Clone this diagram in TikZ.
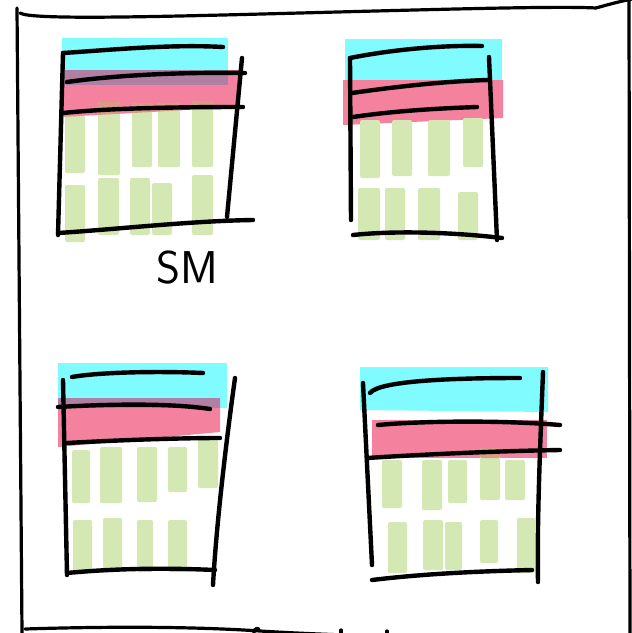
\documentclass[tikz,border=0pt]{standalone}
\usepackage{xcolor}
\definecolor{cyanhl}{HTML}{80FBFF}
\definecolor{pinkhl}{HTML}{F4829E}
\definecolor{purplehl}{HTML}{B07FA3}
\definecolor{greenhl}{HTML}{D4E8B4}
\definecolor{tanhl}{HTML}{D99A86}
\tikzset{
  cyanband/.style={fill=cyanhl},
  pinkband/.style={fill=pinkhl},
  mixband/.style={fill=purplehl},
  greenbar/.style={fill=greenhl, rounded corners=2pt},
  tanbar/.style={fill=tanhl, rounded corners=2pt},
  ink/.style={draw=black, line width=4.4pt, line cap=round, line join=round},
  frameink/.style={draw=black, line width=3.2pt, line cap=round, line join=round},
  label/.style={font=\fontsize{46}{46}\selectfont\sffamily, inner sep=0pt}
}
\begin{document}
\begin{tikzpicture}[x=1pt,y=-1pt]
\useasboundingbox (0,0) rectangle (632,633);
\fill[white] (0,0) rectangle (632,633);

% ---------- outer frame ----------
\draw[frameink] (17,8) -- (22,633);
\draw[frameink] (20,13) .. controls (30,20) and (150,17) .. (300,13) .. controls (450,9) and (560,6) .. (596,8);
\draw[frameink] (596,8) .. controls (610,4) and (622,1) .. (632,-1);
\draw[frameink] (629,-2) -- (630,635);
\draw[frameink] (25,629) .. controls (120,626) and (200,627) .. (260,631) .. controls (340,636) and (450,638) .. (525,640);
\draw[frameink] (254,636) .. controls (253,630) and (256,627) .. (259,629);
\draw[frameink] (341,630) -- (341,636);
\draw[frameink] (387,631) -- (387,636);

% ---------- box 1 (top left) ----------
\fill[cyanband] (62,38) rectangle (228,85);
\fill[pinkband] (62,70) -- (240,70) -- (240,107) -- (62,117) -- cycle;
\fill[mixband] (62,70) rectangle (228,85);
\fill[greenbar] (65,115) rectangle (85,173);
\fill[greenbar] (98,102) rectangle (120,175);
\fill[greenbar] (132,103) rectangle (152,167);
\fill[greenbar] (158,103) rectangle (180,167);
\fill[greenbar] (192,101) rectangle (213,167);
\begin{scope}
\clip (62,70) -- (240,70) -- (240,107) -- (62,117) -- cycle;
\fill[tanbar] (65,115) rectangle (85,173);
\fill[tanbar] (98,102) rectangle (120,175);
\fill[tanbar] (132,103) rectangle (152,167);
\fill[tanbar] (158,103) rectangle (180,167);
\fill[tanbar] (192,101) rectangle (213,167);
\end{scope}
\fill[greenbar] (65,185) rectangle (85,242);
\fill[greenbar] (98,178) rectangle (119,235);
\fill[greenbar] (130,178) rectangle (150,235);
\fill[greenbar] (152,183) rectangle (172,235);
\fill[greenbar] (192,175) rectangle (213,235);
\draw[ink] (63,53) .. controls (110,50) and (170,44) .. (223,47);
\draw[ink] (63,53) -- (58,235);
\draw[ink] (67,82) .. controls (110,76) and (170,72) .. (245,73);
\draw[ink] (63,113) .. controls (110,108) and (180,107) .. (243,107);
\draw[ink] (242,58) -- (227,217);
\draw[ink] (58,233) .. controls (120,229) and (190,221) .. (253,220);
\node[label] (sm) at (187,268) {SM};

% ---------- box 2 (top right) ----------
\fill[cyanband] (345,39) rectangle (502,82);
\fill[pinkband] (343,80) -- (503,80) -- (503,118) -- (343,125) -- cycle;
\fill[greenbar] (360,120) rectangle (380,178);
\fill[greenbar] (392,120) rectangle (412,176);
\fill[greenbar] (428,120) rectangle (450,176);
\fill[greenbar] (463,118) rectangle (483,167);
\fill[greenbar] (358,188) rectangle (380,240);
\fill[greenbar] (385,188) rectangle (405,240);
\fill[greenbar] (418,188) rectangle (440,240);
\fill[greenbar] (458,192) rectangle (478,240);
\draw[ink] (350,58) .. controls (390,50) and (440,45) .. (482,46);
\draw[ink] (350,58) -- (351,220);
\draw[ink] (352,93) .. controls (400,86) and (450,81) .. (488,80);
\draw[ink] (353,117) .. controls (400,110) and (450,108) .. (477,107);
\draw[ink] (489,57) -- (497,240);
\draw[ink] (353,235) .. controls (400,230) and (460,233) .. (502,238);

% ---------- box 3 (bottom left) ----------
\fill[cyanband] (58,363) rectangle (227,408);
\fill[pinkband] (58,398) -- (220,398) -- (220,432) -- (58,447) -- cycle;
\fill[mixband] (58,398) rectangle (220,408);
\fill[greenbar] (72,450) rectangle (90,503);
\fill[greenbar] (100,447) rectangle (122,503);
\fill[greenbar] (137,447) rectangle (157,502);
\fill[greenbar] (168,447) rectangle (187,492);
\fill[greenbar] (198,436) rectangle (218,488);
\fill[greenbar] (73,520) rectangle (92,572);
\fill[greenbar] (103,518) rectangle (122,572);
\fill[greenbar] (137,520) rectangle (153,572);
\fill[greenbar] (168,520) rectangle (187,572);
\draw[ink] (72,377) .. controls (100,372) and (160,371) .. (203,373);
\draw[ink] (58,407) .. controls (110,404) and (170,403) .. (210,409);
\draw[ink] (63,380) -- (67,575);
\draw[ink] (67,443) .. controls (120,440) and (180,438) .. (220,438);
\draw[ink] (235,378) .. controls (225,450) and (216,530) .. (213,585);
\draw[ink] (67,573) .. controls (120,568) and (170,568) .. (215,570);

% ---------- box 4 (bottom right) ----------
\fill[cyanband] (360,367) -- (548,367) -- (548,412) -- (360,410) -- cycle;
\fill[pinkband] (372,420) rectangle (547,458);
\fill[greenbar] (382,460) rectangle (402,508);
\fill[greenbar] (422,460) rectangle (442,510);
\fill[greenbar] (448,460) rectangle (467,503);
\fill[greenbar] (480,448) rectangle (500,500);
\fill[tanbar] (480,448) rectangle (500,458);
\fill[greenbar] (505,460) rectangle (525,500);
\fill[greenbar] (388,522) rectangle (407,573);
\fill[greenbar] (423,520) rectangle (443,570);
\fill[greenbar] (445,522) rectangle (462,570);
\fill[greenbar] (480,520) rectangle (498,563);
\fill[greenbar] (517,518) rectangle (535,573);
\draw[ink] (363,383) -- (372,565);
\draw[ink] (370,393) .. controls (380,380) and (460,378) .. (520,378);
\draw[ink] (543,372) .. controls (540,450) and (537,520) .. (538,582);
\draw[ink] (378,425) .. controls (420,421) and (500,420) .. (560,425);
\draw[ink] (367,458) .. controls (430,454) and (500,451) .. (560,450);
\draw[ink] (372,580) .. controls (430,573) and (490,571) .. (532,570);
\end{tikzpicture}
\end{document}
